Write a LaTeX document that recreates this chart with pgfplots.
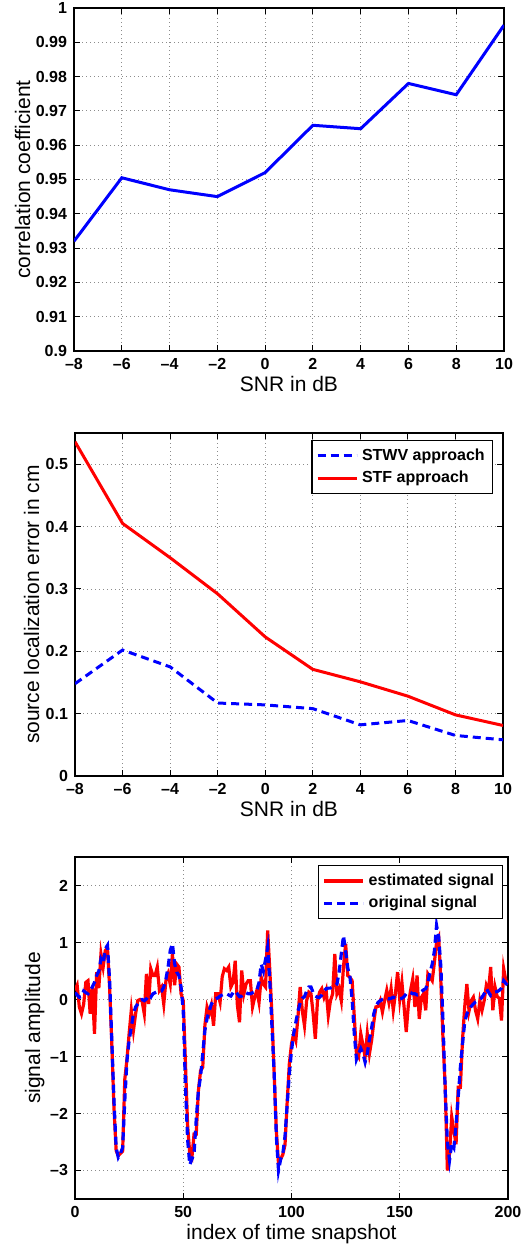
\documentclass[border=0pt]{standalone}
\usepackage{fontspec}
\setmainfont{Liberation Sans}
\usepackage{pgfplots}
\usepackage{pgfplotstable}
\pgfplotsset{compat=1.18}

\definecolor{mblue}{rgb}{0,0,1}
\definecolor{mred}{rgb}{1,0,0}

% n, estimated signal, original signal
\pgfplotstableread{
n est orig
0 0.16 0.12
1 0.25 0.08
2 -0.13 0.04
3 -0.25 0.05
4 -0.08 0.15
5 0.30 0.12
6 0.33 0.10
7 -0.25 0.15
8 0.22 0.22
9 -0.60 0.30
10 0.48 0.42
11 0.20 0.50
12 0.80 0.71
13 0.57 0.63
14 0.86 0.89
15 0.90 0.95
16 0.20 0.33
17 -0.78 -0.72
18 -1.90 -1.77
19 -2.65 -2.60
20 -2.74 -2.77
21 -2.70 -2.70
22 -2.66 -2.60
23 -1.40 -1.77
24 -1.05 -1.07
25 -0.60 -0.72
26 -0.19 -0.49
27 -0.54 -0.25
28 -0.25 -0.13
29 -0.02 -0.08
30 0.00 -0.02
31 -0.03 0.00
32 -0.25 -0.02
33 0.45 0.01
34 -0.08 0.07
35 0.54 0.04
36 0.42 0.10
37 0.42 0.12
38 0.57 0.14
39 0.16 0.15
40 0.22 0.15
41 -0.08 0.22
42 0.33 0.36
43 0.45 0.57
44 0.27 0.86
45 0.80 0.98
46 0.25 0.63
47 0.62 0.48
48 0.57 0.42
49 0.10 0.22
50 -0.02 -0.20
51 -1.10 -1.50
52 -2.20 -2.45
53 -2.70 -2.90
54 -2.77 -2.80
55 -2.36 -2.70
56 -2.36 -2.10
57 -1.60 -1.60
58 -1.25 -1.35
59 -1.19 -0.95
60 -0.45 -0.54
61 -0.13 -0.33
62 -0.25 -0.20
63 -0.10 -0.08
64 -0.46 -0.02
65 0.10 0.01
66 0.10 0.03
67 -0.05 0.06
68 0.40 0.08
69 0.54 0.10
70 0.51 0.10
71 0.57 0.08
72 0.22 0.06
73 0.30 0.12
74 0.68 0.15
75 -0.10 0.10
76 -0.40 0.05
77 0.51 0.06
78 0.10 0.10
79 0.27 0.12
80 0.33 0.10
81 0.33 0.10
82 -0.13 0.12
83 0.04 0.13
84 0.16 0.16
85 -0.05 0.30
86 0.39 0.62
87 0.27 0.50
88 0.22 0.70
89 1.21 0.92
90 0.50 0.30
91 -0.30 -0.50
92 -1.30 -1.30
93 -2.30 -2.40
94 -2.88 -3.00
95 -2.80 -2.80
96 -2.72 -2.70
97 -2.55 -2.40
98 -1.80 -1.85
99 -1.13 -1.30
100 -0.78 -0.90
101 -0.60 -0.60
102 -0.72 -0.40
103 -0.30 -0.20
104 0.22 -0.06
105 -0.20 0.02
106 -0.46 0.05
107 -0.02 0.15
108 0.13 0.22
109 0.10 0.22
110 -0.25 0.12
111 -0.69 0.06
112 -0.02 0.04
113 0.13 0.04
114 0.19 0.08
115 0.04 0.15
116 0.16 0.19
117 -0.28 0.20
118 -0.02 0.20
119 0.10 0.22
120 0.80 0.24
121 0.10 0.27
122 0.19 0.48
123 -0.02 0.80
124 0.57 1.12
125 0.98 0.85
126 0.42 0.55
127 0.39 0.40
128 0.33 0.00
129 -0.30 -0.60
130 -0.95 -1.05
131 -1.01 -0.95
132 -0.60 -0.86
133 -0.80 -0.95
134 -1.01 -1.10
135 -0.60 -0.95
136 -0.95 -0.70
137 -0.72 -0.50
138 -0.40 -0.25
139 -0.13 -0.12
140 -0.12 -0.05
141 -0.02 -0.02
142 -0.22 0.00
143 -0.02 0.01
144 0.16 0.02
145 -0.05 0.01
146 0.19 0.02
147 -0.19 0.04
148 0.10 0.03
149 0.48 0.02
150 0.00 0.01
151 0.30 0.02
152 -0.13 0.05
153 -0.57 0.10
154 -0.08 0.13
155 0.16 0.12
156 0.36 0.10
157 -0.13 0.10
158 0.42 0.08
159 -0.34 0.10
160 0.04 0.14
161 0.10 0.17
162 -0.19 0.19
163 0.45 0.30
164 0.39 0.48
165 0.33 0.62
166 0.65 0.85
167 1.00 1.30
168 1.09 1.09
169 0.30 0.57
170 -0.72 -0.40
171 -1.54 -1.60
172 -3.00 -2.50
173 -2.70 -2.82
174 -2.06 -2.53
175 -2.30 -2.60
176 -2.54 -2.20
177 -1.54 -1.71
178 -1.54 -1.19
179 -0.70 -0.78
180 -0.13 -0.40
181 0.27 -0.25
182 -0.20 -0.19
183 -0.02 -0.12
184 0.04 -0.08
185 -0.19 -0.04
186 -0.34 -0.02
187 -0.02 0.00
188 -0.19 0.04
189 -0.02 0.10
190 0.25 0.19
191 0.16 0.13
192 0.57 0.07
193 -0.19 0.10
194 0.22 0.13
195 0.05 0.14
196 0.02 0.16
197 -0.37 0.20
198 0.54 0.33
199 0.33 0.28
200 0.27 0.25
}\signaltable

\pgfplotsset{
  matlab/.style={
    scale only axis,
    anchor=south west,
    axis line style={black, line width=0.6pt},
    tick align=inside,
    tick pos=both,
    major tick length=3pt,
    every tick/.style={black, line width=0.5pt},
    grid=major,
    major grid style={black!45, line width=0.4pt, dash pattern=on 0.5pt off 1.5pt},
    /pgf/number format/assume math mode=true,
    tick label style={font=\bfseries\fontsize{8}{9.6}\selectfont},
    label style={font=\fontsize{10.5}{12}\selectfont},
    legend style={font=\bfseries\fontsize{8}{10.5}\selectfont, draw=black,
      line width=0.6pt, inner sep=2pt, row sep=0pt,
      cells={anchor=west}},
    legend image code/.code={\draw[#1] (0pt,0pt) -- (19.5pt,0pt);},
  },
}

\begin{document}
\begin{tikzpicture}
\useasboundingbox (0,0) rectangle (264pt,622.5pt);

% ---------------- correlation coefficient ----------------
\begin{axis}[
  matlab,
  at={(37pt,447pt)},
  width=215pt, height=171.5pt,
  xmin=-8, xmax=10, ymin=0.9, ymax=1,
  xtick={-8,-6,...,10},
  xticklabels={–8,–6,–4,–2,0,2,4,6,8,10},
  ytick={0.9,0.91,0.92,0.93,0.94,0.95,0.96,0.97,0.98,0.99,1},
  yticklabels={0.9,0.91,0.92,0.93,0.94,0.95,0.96,0.97,0.98,0.99,1},
  xlabel={SNR in dB},
  ylabel={correlation coefficient},
  xlabel style={at={(axis description cs:0.5,-0.1195)}, anchor=base},
  ylabel style={at={(axis description cs:-0.1023,0.5)}, anchor=base},
]
\addplot[mblue, line width=1.5pt] coordinates {
  (-8,0.932) (-6,0.9505) (-4,0.947) (-2,0.945) (0,0.952)
  (2,0.9658) (4,0.9648) (6,0.978) (8,0.9747) (10,0.995)
};
\end{axis}

% ---------------- localization error ----------------
\begin{axis}[
  matlab,
  at={(37.5pt,234.5pt)},
  width=214pt, height=171.5pt,
  xmin=-8, xmax=10, ymin=0, ymax=0.55,
  xtick={-8,-6,...,10},
  xticklabels={–8,–6,–4,–2,0,2,4,6,8,10},
  ytick={0,0.1,0.2,0.3,0.4,0.5},
  yticklabels={0,0.1,0.2,0.3,0.4,0.5},
  xlabel={SNR in dB},
  ylabel={source localization error in cm},
  xlabel style={at={(axis description cs:0.5,-0.1195)}, anchor=base},
  ylabel style={at={(axis description cs:-0.0841,0.5)}, anchor=base},
  legend style={at={(1,1)}, anchor=north east, xshift=-4.85pt, yshift=-3.5pt},
]
\addplot[mblue, line width=1.5pt, dash pattern=on 4pt off 2.5pt] coordinates {
  (-8,0.148) (-6,0.202) (-4,0.175) (-2,0.117) (0,0.114)
  (2,0.108) (4,0.082) (6,0.089) (8,0.065) (10,0.058)
};
\addlegendentry{STWV approach}
\addplot[mred, line width=1.5pt] coordinates {
  (-8,0.536) (-6,0.405) (-4,0.35) (-2,0.292) (0,0.223)
  (2,0.171) (4,0.151) (6,0.128) (8,0.098) (10,0.081)
};
\addlegendentry{STF approach}
\end{axis}

% ---------------- signal amplitude ----------------
\begin{axis}[
  matlab,
  at={(37.5pt,23pt)},
  width=216.5pt, height=171pt,
  xmin=0, xmax=200, ymin=-3.5, ymax=2.5,
  xtick={0,50,100,150,200},
  xticklabels={0,50,100,150,200},
  ytick={-3,-2,-1,0,1,2},
  yticklabels={–3,–2,–1,0,1,2},
  xlabel={index of time snapshot},
  ylabel={signal amplitude},
  xlabel style={at={(axis description cs:0.5,-0.117)}, anchor=base},
  ylabel style={at={(axis description cs:-0.0806,0.5)}, anchor=base},
  legend style={at={(1,1)}, anchor=north east, xshift=-2.65pt, yshift=-4pt,
    font=\bfseries\fontsize{8}{11.5}\selectfont},
]
\addplot[mred, line width=1.6pt] table[x=n, y=est] {\signaltable};
\addlegendentry{estimated signal}
\addplot[mblue, line width=1.6pt, dash pattern=on 4pt off 2.5pt] table[x=n, y=orig] {\signaltable};
\addlegendentry{original signal}
\end{axis}
\end{tikzpicture}
\end{document}
